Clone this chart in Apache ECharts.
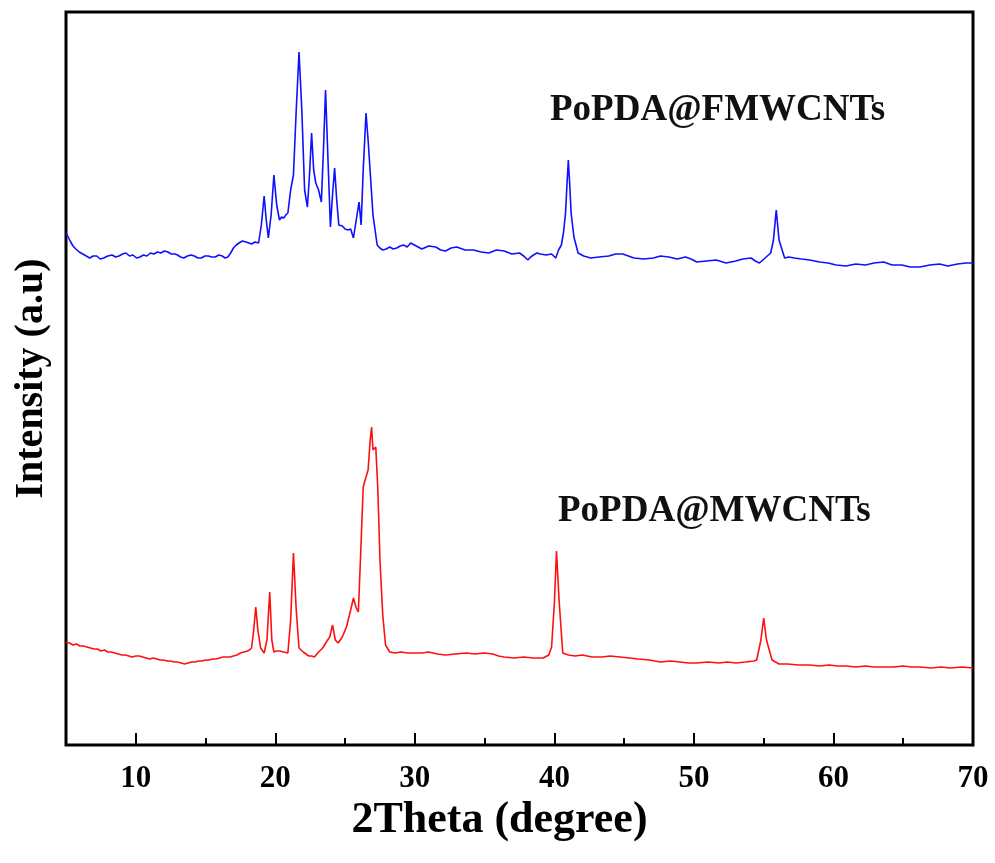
<!DOCTYPE html>
<html>
<head>
<meta charset="utf-8">
<script src="https://cdn.jsdelivr.net/npm/echarts@6/dist/echarts.min.js"></script>
<style>
html,body{margin:0;padding:0;background:#fff;}
#c{width:995px;height:863px;}
</style>
</head>
<body>
<div id="c"></div>
<script>
// 2Theta positions (degree) and intensities (a.u., arbitrary offset units)
const blueX = [5.0,5.15,5.3,5.5,5.7,5.95,6.2,6.45,6.7,6.95,7.2,7.45,7.7,8.0,8.3,8.55,8.8,9.05,9.3,9.55,9.8,10.05,10.3,10.55,10.8,11.05,11.3,11.55,11.8,12.05,12.3,12.55,12.8,13.0,13.2,13.45,13.7,13.95,14.2,14.45,14.7,14.95,15.2,15.45,15.7,15.95,16.2,16.4,16.6,16.8,17.0,17.2,17.4,17.65,17.9,18.1,18.3,18.55,18.8,19.0,19.2,19.35,19.5,19.7,19.9,20.1,20.3,20.45,20.6,20.75,20.9,21.1,21.3,21.5,21.7,21.9,22.1,22.3,22.45,22.6,22.75,22.9,23.1,23.3,23.45,23.6,23.75,23.95,24.1,24.25,24.4,24.55,24.8,25.0,25.2,25.4,25.6,25.8,26.0,26.15,26.3,26.5,26.65,26.8,27.0,27.3,27.5,27.7,27.95,28.2,28.45,28.7,28.95,29.2,29.45,29.7,30.1,30.5,31.0,31.5,31.85,32.2,32.6,33.0,33.6,34.2,34.75,35.3,35.85,36.4,36.95,37.5,37.8,38.1,38.3,38.5,38.75,39.0,39.4,39.8,40.1,40.3,40.5,40.65,40.8,40.9,41.0,41.1,41.2,41.4,41.7,42.1,42.6,43.2,43.9,44.4,44.9,45.3,45.7,46.4,47.1,47.6,48.2,48.8,49.4,49.8,50.2,50.9,51.6,52.3,53.0,53.5,54.1,54.4,54.7,55.1,55.5,55.7,55.8,55.9,56.0,56.1,56.5,56.8,57.2,57.7,58.3,59.0,59.6,60.2,60.9,61.6,62.3,62.9,63.6,64.2,64.9,65.5,66.2,66.9,67.6,68.2,68.9,69.5,70.0];
const blueY = [512,508,504,499,496,493,491,489,487,489,489,486,487,489,490,488,489,491,492,489,490,487,488,490,489,492,491,493,492,494,493,491,491,490,488,487,489,490,489,487,487,489,489,488,488,490,489,487,488,492,497,500,502,504,503,502,501,503,502,520,549,525,507,530,570,540,525,528,527,530,532,555,570,635,693,635,555,538,570,612,575,562,555,543,595,655,595,518,550,577,545,520,519,516,515,516,507,525,543,520,575,632,605,573,530,500,497,495,496,498,496,497,499,500,498,502,499,496,499,498,495,494,497,498,495,495,493,492,495,494,491,492,489,485,488,490,492,491,490,491,487,495,500,512,532,560,585,560,532,508,492,489,487,488,489,491,491,489,487,486,487,489,488,486,488,486,483,484,485,482,484,486,487,484,482,487,492,505,520,535,520,505,487,488,487,486,485,483,482,480,479,481,480,482,483,480,480,478,478,480,481,479,481,482,482];
const redX = [5.0,5.25,5.5,5.75,6.0,6.25,6.5,6.75,7.0,7.25,7.5,7.75,8.0,8.25,8.5,8.75,9.0,9.25,9.5,9.75,10.0,10.25,10.5,10.75,11.0,11.25,11.5,11.75,12.0,12.25,12.5,12.75,13.0,13.25,13.5,13.75,14.0,14.25,14.5,14.75,15.0,15.25,15.5,15.75,16.0,16.25,16.5,16.75,17.0,17.25,17.5,17.75,18.0,18.15,18.3,18.45,18.6,18.75,18.95,19.2,19.4,19.6,19.75,19.9,20.1,20.3,20.6,20.9,21.1,21.3,21.5,21.7,22.0,22.2,22.4,22.6,22.8,23.1,23.4,23.7,23.9,24.1,24.3,24.5,24.8,25.1,25.4,25.6,25.8,25.95,26.1,26.3,26.5,26.65,26.8,26.9,27.0,27.1,27.2,27.35,27.5,27.7,27.9,28.2,28.6,29.0,29.5,30.0,30.5,31.0,31.6,32.2,32.9,33.7,34.3,35.0,35.6,36.0,36.4,37.1,37.8,38.5,39.2,39.6,39.8,40.0,40.15,40.35,40.6,41.0,41.5,42.0,42.7,43.4,44.0,44.7,45.4,46.0,46.8,47.6,48.3,49.0,49.6,50.2,51.0,51.8,52.4,53.0,53.7,54.3,54.5,54.8,55.0,55.2,55.6,56.1,56.7,57.5,58.3,59.0,59.7,60.3,60.9,61.6,62.3,62.9,63.6,64.3,65.0,65.6,66.2,67.0,67.7,68.4,69.2,70.0];
const redY = [103,102,100,101,99,99,98,97,96,96,94,95,93,93,92,91,90,90,89,88,89,89,88,87,86,87,86,85,85,84,84,83,83,82,81,82,83,83,84,84,85,85,86,86,87,88,88,88,89,90,92,93,94,95,97,115,138,115,97,92,105,153,105,93,94,94,93,92,125,192,135,97,93,91,89,89,88,93,97,104,108,120,105,102,108,118,135,147,137,133,185,258,268,275,305,318,295,293,298,255,185,130,100,93,92,93,92,92,92,93,91,90,91,92,91,92,91,89,88,87,88,87,87,90,98,142,194,142,92,90,89,90,88,88,89,88,87,86,85,83,84,83,82,82,83,82,83,82,83,84,85,105,127,105,85,81,81,80,80,79,80,79,79,78,79,78,78,78,79,78,78,77,78,77,78,77];
const majorTicks = [10,20,30,40,50,60];
const minorTicks = [15,25,35,45,55,65];
const tickLabels = [10,20,30,40,50,60,70];
const labelTop = 'PoPDA@FMWCNTs';
const labelBottom = 'PoPDA@MWCNTs';

const pairs = (xs, ys) => xs.map((x, i) => [x, ys[i]]);
const serif = "'Liberation Serif','Times New Roman',serif";

const chart = echarts.init(document.getElementById('c'), null, {renderer: 'canvas'});
chart.setOption({
  animation: false,
  backgroundColor: '#fff',
  grid: {left: 66, right: 22, top: 12, bottom: 118, show: true, borderColor: '#000', borderWidth: 3, backgroundColor: 'transparent'},
  xAxis: [
    {
      type: 'value', min: 5, max: 70, position: 'bottom',
      axisLine: {show: false},
      splitLine: {show: false},
      axisTick: {show: true, inside: true, length: 12, customValues: majorTicks, lineStyle: {color: '#000', width: 2}},
      axisLabel: {show: true, customValues: tickLabels, color: '#000', fontFamily: serif, fontWeight: 'bold', fontSize: 31, margin: 18},
      name: '2Theta (degree)', nameLocation: 'middle', nameGap: 50,
      nameTextStyle: {color: '#000', fontFamily: serif, fontWeight: 'bold', fontSize: 44, padding: [0, 40, 0, 0]}
    },
    {
      type: 'value', min: 5, max: 70, position: 'bottom',
      axisLine: {show: false},
      splitLine: {show: false},
      axisTick: {show: true, inside: true, length: 7, customValues: minorTicks, lineStyle: {color: '#000', width: 2}},
      axisLabel: {show: false}
    }
  ],
  yAxis: {
    type: 'value', min: 0, max: 733,
    axisLine: {show: false}, axisTick: {show: false}, axisLabel: {show: false}, splitLine: {show: false},
    name: 'Intensity (a.u)', nameLocation: 'middle', nameGap: 14,
    nameTextStyle: {color: '#000', fontFamily: serif, fontWeight: 'bold', fontSize: 40}
  },
  series: [
    {type: 'line', name: labelTop, data: pairs(blueX, blueY), showSymbol: false, xAxisIndex: 0,
     lineStyle: {color: '#1010ff', width: 1.6}, itemStyle: {color: '#1010ff'}},
    {type: 'line', name: labelBottom, data: pairs(redX, redY), showSymbol: false, xAxisIndex: 0,
     lineStyle: {color: '#ff1010', width: 1.6}, itemStyle: {color: '#ff1010'}}
  ],
  graphic: [
    {type: 'text', left: 550, top: 92, style: {text: labelTop, fill: '#111', font: "bold 37px " + serif}},
    {type: 'text', left: 558, top: 493, style: {text: labelBottom, fill: '#111', font: "bold 37px " + serif}}
  ]
});
</script>
</body>
</html>
